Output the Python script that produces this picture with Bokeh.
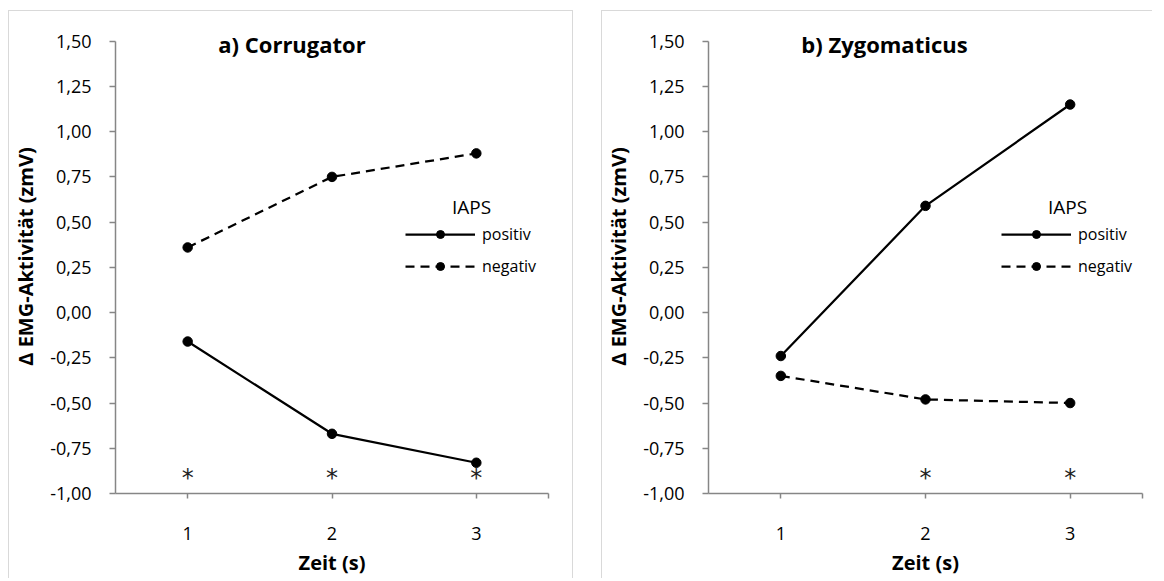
from bokeh.plotting import figure
from bokeh.models import FixedTicker, Legend, LegendItem, Label, Range1d
from bokeh.layouts import row
from bokeh.embed import file_html
from bokeh.resources import INLINE
from bokeh.core.properties import value

# ---- data ----
zeit = [1, 2, 3]
corr_positiv = [-0.16, -0.67, -0.83]
corr_negativ = [0.36, 0.75, 0.88]
zyg_positiv = [-0.24, 0.59, 1.15]
zyg_negativ = [-0.35, -0.48, -0.50]
sig_corr = [1, 2, 3]
sig_zyg = [2, 3]
sig_level = -0.89
y_ticks = [-1.0, -0.75, -0.5, -0.25, 0.0, 0.25, 0.5, 0.75, 1.0, 1.25, 1.5]
x_ticks = [1, 2, 3]
titles = ["a) Corrugator", "b) Zygomaticus"]
y_label = "\u0394 EMG-Aktivit\u00e4t (zmV)"
x_label = "Zeit (s)"
legend_title = "IAPS"
series_names = ["positiv", "negativ"]

FONT = "Open Sans"
AXIS_COL = "#868686"
BORDER_COL = "#d9d9d9"


def make_panel(title, pos, neg, sig, width, mb_left, mb_right, title_x, leg_x, right_border):
    # frame extends a little above 1.50 so the title (inside the plot area) is not clipped
    p = figure(width=width, height=568, output_backend="svg", toolbar_location=None,
               x_range=Range1d(0.5, 3.5), y_range=Range1d(-1.0, 1.62),
               min_border_left=mb_left, min_border_right=mb_right,
               min_border_top=8, min_border_bottom=86, title=None)
    p.outline_line_color = None
    p.xgrid.visible = False
    p.ygrid.visible = False
    p.background_fill_color = "white"
    p.border_fill_color = "white"

    # axes
    for ax in (p.xaxis[0], p.yaxis[0]):
        ax.axis_line_color = AXIS_COL
        ax.axis_line_width = 1.5
        ax.major_tick_line_color = AXIS_COL
        ax.major_tick_line_width = 1.5
        ax.major_tick_in = 0
        ax.minor_tick_out = 0
        ax.minor_tick_in = 0
        ax.major_label_text_font = FONT
        ax.major_label_text_font_size = "18px"
        ax.major_label_text_color = "black"
        ax.axis_label_text_font = FONT
        ax.axis_label_text_font_style = "bold"
        ax.axis_label_text_font_size = "20px"
        ax.axis_label_text_color = "black"

    xa = p.xaxis[0]
    xa.ticker = FixedTicker(ticks=x_ticks + [3.5])
    xa.major_label_overrides = {3.5: ""}
    xa.major_tick_out = 5
    xa.major_label_standoff = 28
    xa.axis_label = x_label
    xa.axis_label_standoff = 6

    ya = p.yaxis[0]
    ya.ticker = FixedTicker(ticks=y_ticks)
    ya.bounds = (y_ticks[0], y_ticks[-1])
    ya.major_label_overrides = {t: f"{t:.2f}".replace(".", ",") for t in y_ticks}
    ya.major_tick_out = 6
    ya.major_label_standoff = 18
    ya.axis_label = y_label
    ya.axis_label_standoff = 8

    # series
    l_pos = p.line(zeit, pos, line_color="black", line_width=2.25)
    s_pos = p.scatter(zeit, pos, size=9.5, fill_color="black", line_color="black")
    l_neg = p.line(zeit, neg, line_color="black", line_width=2.25, line_dash="9 6")
    s_neg = p.scatter(zeit, neg, size=9.5, fill_color="black", line_color="black")

    # significance asterisks
    p.text(x=sig, y=[sig_level] * len(sig), text=["*"] * len(sig),
           text_align="center", text_baseline="middle",
           text_font=value("DejaVu Sans"), text_font_size="24px",
           text_color="#222222", y_offset=4)

    legend = Legend(items=[LegendItem(label=series_names[0], renderers=[l_pos, s_pos]),
                           LegendItem(label=series_names[1], renderers=[l_neg, s_neg])],
                    location=(leg_x, 216), padding=0, margin=0,
                    border_line_color=None, background_fill_alpha=0,
                    glyph_width=70, glyph_height=20, label_height=20, spacing=10,
                    label_standoff=7, label_text_font=FONT, label_text_font_size="16px",
                    label_text_color="black")
    p.add_layout(legend)

    p.add_layout(Label(x=leg_x + 66, y=287, x_units="screen", y_units="screen",
                       text=legend_title, text_align="center", text_baseline="middle",
                       text_font=FONT, text_font_size="19px", text_color="black"))

    p.add_layout(Label(x=title_x, y=450, x_units="screen", y_units="screen",
                       text=title, text_align="center", text_baseline="alphabetic",
                       text_font=FONT, text_font_style="bold", text_font_size="22px",
                       text_color="black"))

    border = f"1px solid {BORDER_COL}"
    st = {"border-top": border, "border-left": border}
    if right_border:
        st["border-right"] = border
    p.styles = st
    return p


p1 = make_panel(titles[0], corr_positiv, corr_negativ, sig_corr, 565, 106, 26, 176.5, 290, True)
p2 = make_panel(titles[1], zyg_positiv, zyg_negativ, sig_zyg, 551, 104, 11, 176, 293, False)
p1.margin = (10, 0, 0, 8)
p2.margin = (10, 0, 0, 28)

layout = row(p1, p2)
open("out.html", "w").write(file_html(layout, INLINE))
